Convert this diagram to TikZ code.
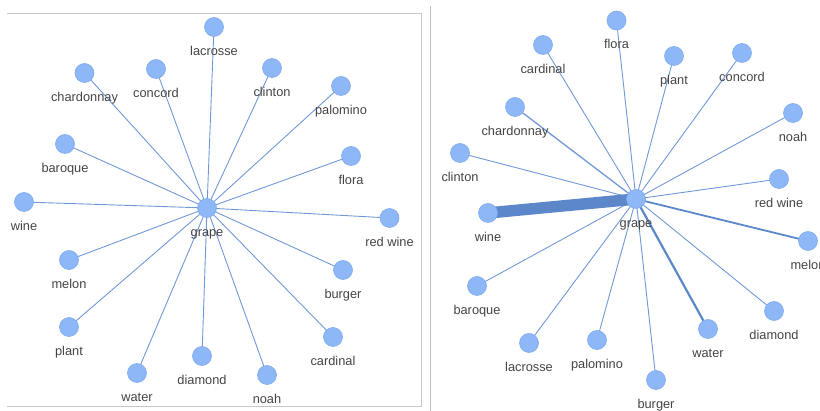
\documentclass[tikz,border=0pt]{standalone}
\usepackage{fontspec}
\setmainfont{Liberation Sans}
\pgfdeclarelayer{background}
\pgfsetlayers{background,main}
\definecolor{vfill}{HTML}{8DB7F7}
\definecolor{vline}{HTML}{80AAEE}
\definecolor{edge}{HTML}{7098D8}
\definecolor{thick}{HTML}{5C88CA}
\definecolor{txt}{HTML}{444444}
\definecolor{frame}{HTML}{C8C8C8}
\tikzset{
  vtx/.style={circle, fill=vfill, draw=vline, line width=0.6pt, minimum size=19pt, inner sep=0pt},
  lbl/.style={anchor=base, inner sep=0pt, text=txt, font=\fontsize{12.8}{14}\selectfont},
  edg/.style={draw=edge, line width=0.9pt},
  framel/.style={draw=frame, line width=1pt}
}
\newcommand\vnode[3]{%
  \node[vtx] (#1) at (#2) {};
  \node[lbl] (#1l) at ([yshift=-28.5pt]#1.center) {#3};}
\begin{document}
\begin{tikzpicture}[x=1pt, y=-1pt]
\useasboundingbox (0,0) rectangle (820,411);
\clip (0,0) rectangle (820,411);
% frames
\coordinate (f1) at (7,13.5);
\coordinate (f2) at (421.5,13.5);
\coordinate (f3) at (421.5,406.5);
\coordinate (f4) at (7,406.5);
\draw[framel] (f1) -- (f2) -- (f3) -- (f4);
\coordinate (s1) at (430.7,6);
\coordinate (s2) at (430.7,411);
\draw[framel, draw=frame!95!black] (s1) -- (s2);
% ---------- left graph ----------
\vnode{Lgrape}{207,208}{grape}
\vnode{Llacrosse}{214,27}{lacrosse}
\vnode{Lchardonnay}{84.5,73}{chardonnay}
\vnode{Lconcord}{156,69}{concord}
\vnode{Lclinton}{272,68}{clinton}
\vnode{Lpalomino}{341,86}{palomino}
\vnode{Lbaroque}{65,144}{baroque}
\vnode{Lflora}{351,156}{flora}
\vnode{Lwine}{24,202}{wine}
\vnode{Lredwine}{389.5,218}{red wine}
\vnode{Lmelon}{69,260}{melon}
\vnode{Lburger}{343,270}{burger}
\vnode{Lplant}{69,327}{plant}
\vnode{Lcardinal}{333,337}{cardinal}
\vnode{Ldiamond}{202,356}{diamond}
\vnode{Lwater}{137,373}{water}
\vnode{Lnoah}{267,375}{noah}
\begin{pgfonlayer}{background}
\foreach \n in {lacrosse,chardonnay,concord,clinton,palomino,baroque,flora,wine,redwine,melon,burger,plant,cardinal,diamond,water,noah}
  \draw[edg] (Lgrape.center) -- (L\n.center);
\end{pgfonlayer}
% ---------- right graph ----------
\vnode{Rgrape}{636,199}{grape}
\vnode{Rflora}{616.5,20.5}{flora}
\vnode{Rcardinal}{543,45}{cardinal}
\vnode{Rplant}{674,56}{plant}
\vnode{Rconcord}{742,53}{concord}
\vnode{Rchardonnay}{515,107}{chardonnay}
\vnode{Rnoah}{793,113}{noah}
\vnode{Rclinton}{460,153}{clinton}
\vnode{Rredwine}{779,179}{red wine}
\vnode{Rwine}{488,213}{wine}
\vnode{Rmelon}{808,241}{melon}
\vnode{Rbaroque}{477,286}{baroque}
\vnode{Rlacrosse}{529,343}{lacrosse}
\vnode{Rpalomino}{597,340}{palomino}
\vnode{Rburger}{656,380}{burger}
\vnode{Rwater}{708,329}{water}
\vnode{Rdiamond}{774,311}{diamond}
\begin{pgfonlayer}{background}
\foreach \n in {flora,cardinal,plant,concord,noah,clinton,redwine,baroque,lacrosse,palomino,burger,diamond}
  \draw[edg] (Rgrape.center) -- (R\n.center);
\draw[edg, line width=1.3pt] (Rgrape.center) -- (Rchardonnay.center);
\draw[edg, draw=thick, line width=1.8pt] (Rgrape.center) -- (Rmelon.center);
\draw[edg, draw=thick, line width=2.2pt] (Rgrape.center) -- (Rwater.center);
\draw[draw=thick, line width=11.5pt] (Rgrape.center) -- (Rwine.center);
\end{pgfonlayer}
\end{tikzpicture}
\end{document}
